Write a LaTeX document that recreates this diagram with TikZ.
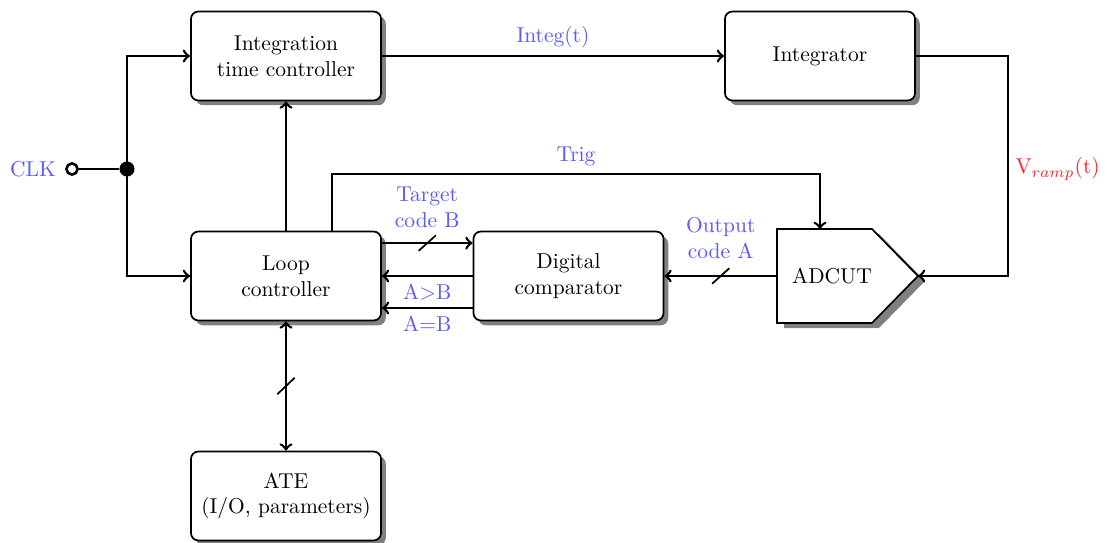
\documentclass[tikz,border=0pt]{standalone}
\usetikzlibrary{shadows}
\begin{document}
\begin{tikzpicture}[x=0.465pt,y=-0.465pt,>=to,
  blk/.style={draw,thick,rounded corners=3.5pt,fill=white,minimum width=88.4pt,minimum height=41.4pt,align=center,
    drop shadow={shadow xshift=2.2pt,shadow yshift=-2.2pt,fill=black!50,opacity=1}},
  wire/.style={very thick},
  slash/.style={thick},
  lbl/.style={text=blue!65, align=center},
]
\useasboundingbox (0,0) rectangle (1107,543);

% blocks
\node[blk] (itc) at (286,56) {Integration\\time controller};
\node[blk] (int) at (820,56) {Integrator};
\node[blk] (loop) at (286,276) {Loop\\controller};
\node[blk] (cmp) at (568.5,276) {Digital\\comparator};
\node[blk] (ate) at (286,496) {ATE\\(I/O, parameters)};

% ADCUT
\fill[black!50] (784,234) -- (879,234) -- (925,281) -- (879,328) -- (784,328) -- cycle;
\draw[thick,fill=white] (777,229) -- (872,229) -- (918,276) -- (872,323) -- (777,323) -- cycle;
\node (adc) at (832,276) {ADCUT};
\coordinate (adcW) at (777,276);
\coordinate (adcE) at (918,276);
\coordinate (adcN) at (820,229);

% CLK
\node[lbl] (clk) at (33,169) {CLK};
\node[circle,draw,very thick,fill=white,inner sep=0pt,minimum size=5.2pt] (clkin) at (72,169) {};
\node[circle,fill,inner sep=0pt,minimum size=7pt] (dot) at (127,169) {};
\draw[wire] (clkin) -- (dot);
\draw[wire,->] (dot.center) |- (itc.west);
\draw[wire,->] (dot.center) |- (loop.west);

% Integ(t)
\draw[wire,->] (itc) -- node[above,lbl] {Integ(t)} (int);

% Vramp
\coordinate (vr) at (1008,169);
\draw[wire,->] (int.east) -| (vr) |- (adcE);
\node[right,text=red!85] (vrl) at (vr) {V$_{ramp}$(t)};

% loop -> itc
\draw[wire,->] (loop) -- (itc);

% Trig
\coordinate (trigc) at (576,174);
\draw[wire,->] ([xshift=21.4pt]loop.north) |- (trigc) -| (adcN);
\node[lbl,above] (trigl) at (trigc) {Trig};

% Target code B
\draw[wire,->] ([yshift=15.3pt]loop.east) -- coordinate[pos=0.5] (s1) ([yshift=15.3pt]cmp.west);
\node[lbl,above,yshift=3.5pt] (tcb) at (s1) {Target\\code B};
\draw[slash] ([xshift=-4pt,yshift=-3.6pt]s1) -- ([xshift=4pt,yshift=3.6pt]s1);

% A>B
\draw[wire,->] (cmp.west) -- node[lbl,below] {A$>$B} (loop.east);
% A=B
\draw[wire,->] ([yshift=-14.9pt]cmp.west) -- node[lbl,below] {A$=$B} ([yshift=-14.9pt]loop.east);

% Output code A
\draw[wire,->] (adcW) -- coordinate[pos=0.5] (s2) (cmp.east);
\node[lbl,above,yshift=4.5pt] (oca) at (s2) {Output\\code A};
\draw[slash] ([xshift=-4pt,yshift=-3.6pt]s2) -- ([xshift=4pt,yshift=3.6pt]s2);

% loop <-> ATE
\draw[wire,<->] (loop) -- coordinate[pos=0.5] (s3) (ate);
\draw[slash] ([xshift=-4pt,yshift=-3.8pt]s3) -- ([xshift=4pt,yshift=3.8pt]s3);
\end{tikzpicture}
\end{document}
